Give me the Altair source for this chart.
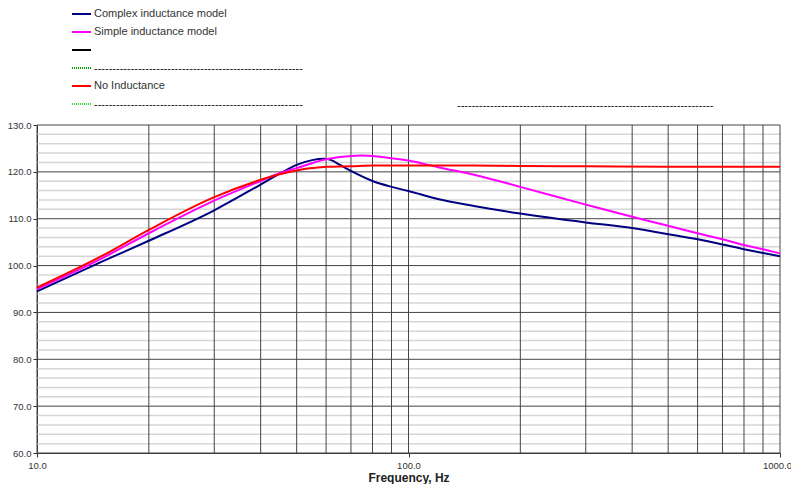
import altair as alt
import pandas as pd

# ---- data ----
freq_complex = [10, 15, 20, 30, 40, 45, 50, 55, 59, 62, 65, 70, 80, 90, 100, 120, 150, 200, 300, 400, 500, 600, 700, 800, 900, 1000]
spl_complex = [94.5, 100.9, 105.3, 111.8, 117.3, 119.6, 121.5, 122.5, 122.8, 122.5, 121.6, 120.2, 118.05, 116.8, 115.9, 114.2, 112.7, 111.1, 109.2, 108.0, 106.7, 105.6, 104.5, 103.5, 102.7, 102.0]

freq_simple = [10, 15, 20, 30, 40, 45, 50, 60, 70, 75, 80, 90, 100, 120, 150, 200, 300, 400, 500, 600, 700, 800, 900, 1000]
spl_simple = [95.0, 101.6, 106.9, 113.85, 118.05, 119.7, 120.8, 122.7, 123.4, 123.5, 123.4, 122.9, 122.4, 121.0, 119.4, 116.8, 113.0, 110.4, 108.5, 106.9, 105.6, 104.4, 103.5, 102.6]

freq_noind = [10, 15, 20, 30, 40, 45, 50, 55, 60, 70, 80, 100, 150, 200, 300, 500, 1000]
spl_noind = [95.3, 102.1, 107.6, 114.6, 118.3, 119.5, 120.3, 120.8, 121.1, 121.2, 121.35, 121.35, 121.35, 121.25, 121.2, 121.1, 121.1]

x_grid = [10, 20, 30, 40, 50, 60, 70, 80, 90, 100, 200, 300, 400, 500, 600, 700, 800, 900, 1000]
x_ticks = [10, 100, 1000]
y_major = [60, 70, 80, 90, 100, 110, 120, 130]
y_minor = [v for v in range(62, 130, 2) if v % 10 != 0]

legend_labels = ["Complex inductance model", "Simple inductance model", "", "-" * 57, "No Inductance", "-" * 57]
legend_colors = ["#000080", "#FF00FF", "#000000", "#00A800", "#FF0000", "#33DD33"]
legend_dotted = [False, False, False, True, False, True]
extra_dash_label = "-" * 70

series_names = ["Complex inductance model", "Simple inductance model", "No Inductance"]
series_colors = ["#000080", "#FF00FF", "#FF0000"]

# ---- build tables ----
rows = []
for name, fs, vs in [(series_names[0], freq_complex, spl_complex),
                     (series_names[1], freq_simple, spl_simple),
                     (series_names[2], freq_noind, spl_noind)]:
    for f, v in zip(fs, vs):
        rows.append({"series": name, "f": f, "spl": v})
df = pd.DataFrame(rows)

W, H = 743, 328
FONT = "Liberation Sans"

x_scale = alt.Scale(type="log", domain=[10, 1000], nice=False)
y_scale = alt.Scale(domain=[60, 130], nice=False, zero=False)

x_axis = alt.Axis(values=x_ticks, format=".1f", title="Frequency, Hz", grid=False,
                  tickSize=4, tickColor="#333333", domainColor="#333333",
                  labelFontSize=9.5, labelColor="#333333", labelPadding=3, labelFont=FONT,
                  labelFlush=False,
                  labelOffset={"condition": {"test": "datum.value >= 1000", "value": -3}, "value": 0},
                  titleFont=FONT, titleFontSize=12, titleFontWeight="bold",
                  titleColor="#222222", titlePadding=3)
y_axis = alt.Axis(values=y_major, format=".1f", title=None, grid=False,
                  tickSize=4, tickColor="#333333", domainColor="#333333",
                  labelFontSize=9.5, labelColor="#333333", labelPadding=2, labelFont=FONT)

minor = alt.Chart(pd.DataFrame({"v": y_minor})).mark_rule(
    color="#d6d6d6", strokeWidth=1.5).encode(
    y=alt.Y("v:Q", scale=y_scale, axis=y_axis), x=alt.value(0), x2=alt.value(W))

major_h = alt.Chart(pd.DataFrame({"v": y_major})).mark_rule(
    color="#444444", strokeWidth=1).encode(
    y=alt.Y("v:Q", scale=y_scale, axis=y_axis), x=alt.value(0), x2=alt.value(W))

major_v = alt.Chart(pd.DataFrame({"f": x_grid})).mark_rule(
    color="#444444", strokeWidth=1).encode(
    x=alt.X("f:Q", scale=x_scale, axis=x_axis), y=alt.value(0), y2=alt.value(H))

lines = alt.Chart(df).mark_line(strokeWidth=2, interpolate="monotone").encode(
    x=alt.X("f:Q", scale=x_scale, axis=x_axis),
    y=alt.Y("spl:Q", scale=y_scale, axis=y_axis),
    color=alt.Color("series:N", scale=alt.Scale(domain=series_names, range=series_colors), legend=None),
    order=alt.Order("f:Q"),
)

layers = [minor, major_h, major_v, lines]

# ---- hand-drawn legend above the plot ----
dummy = pd.DataFrame({"a": [0]})
for i, (lab, col, dot) in enumerate(zip(legend_labels, legend_colors, legend_dotted)):
    yy = -111 + 18 * i
    rule_kwargs = dict(color=col, strokeWidth=2)
    if dot:
        rule_kwargs["strokeDash"] = [1, 1]
    layers.append(alt.Chart(dummy).mark_rule(**rule_kwargs).encode(
        x=alt.value(35), x2=alt.value(54), y=alt.value(yy)))
    if lab:
        is_dash = lab.startswith("-")
        layers.append(alt.Chart(dummy).mark_text(
            text=lab, align="left", baseline="middle", font=FONT, fontSize=11,
            color="#111111" if is_dash else "#333333").encode(
            x=alt.value(57), y=alt.value(yy + (1 if is_dash else 0))))

layers.append(alt.Chart(dummy).mark_text(
    text=extra_dash_label, align="left", baseline="middle", font=FONT, fontSize=11,
    color="#111111").encode(x=alt.value(420), y=alt.value(-19)))

chart = alt.layer(*layers).properties(
    width=W, height=H,
    autosize=alt.AutoSizeParams(type="none"),
    padding={"left": 29, "top": 117, "right": 11, "bottom": 31},
    background="white",
).configure_view(strokeWidth=0)

chart.save("out.html", embed_options={"renderer": "svg", "actions": False})
